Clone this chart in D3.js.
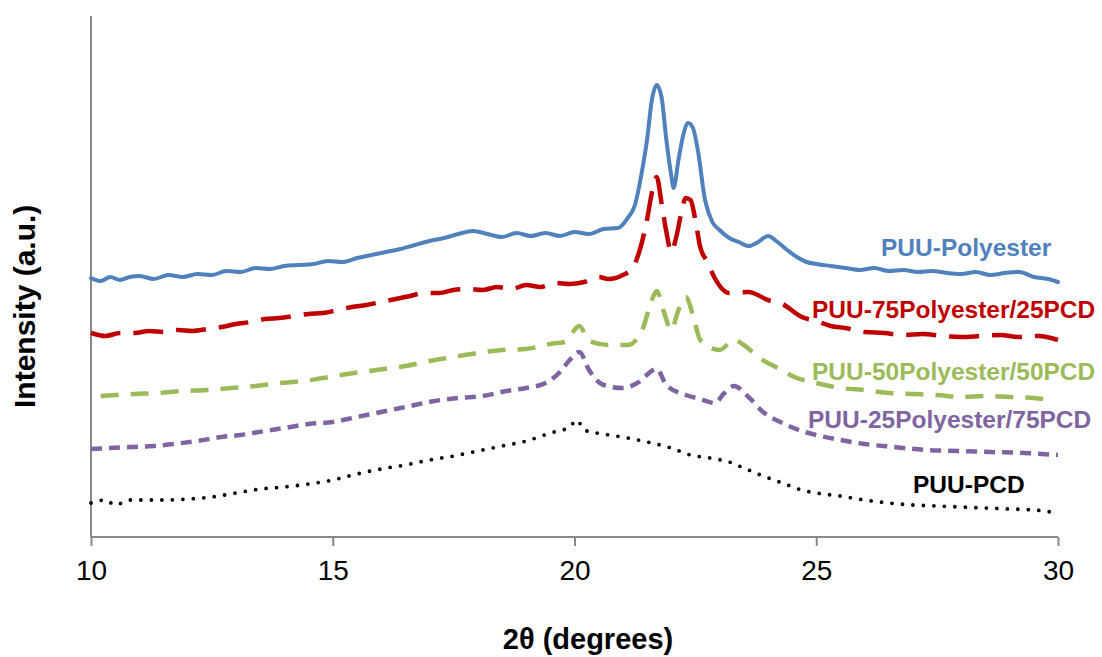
<!DOCTYPE html>
<html><head><meta charset="utf-8">
<script src="https://cdn.jsdelivr.net/npm/d3@7"></script>
<style>html,body{margin:0;padding:0;background:#fff;}svg{display:block;}</style>
</head><body>
<svg id="chart" width="1102" height="657"></svg>
<script>
// ---- data (intensity in arbitrary units) ----
const xTicks = [10, 15, 20, 25, 30];
const seriesNames = ["PUU-Polyester", "PUU-75Polyester/25PCD", "PUU-50Polyester/50PCD", "PUU-25Polyester/75PCD", "PUU-PCD"];

const xPolyester = [10.0,10.2,10.4,10.6,10.8,11.0,11.3,11.6,11.9,12.2,12.5,12.8,13.1,13.4,13.7,14.0,14.3,14.6,14.9,15.2,15.5,15.8,16.1,16.4,16.7,17.0,17.3,17.6,17.9,18.2,18.5,18.8,19.1,19.4,19.7,20.0,20.3,20.6,20.9,21.1,21.25,21.4,21.5,21.6,21.7,21.8,21.9,22.0,22.05,22.15,22.25,22.35,22.45,22.55,22.7,22.85,23.0,23.2,23.4,23.6,23.8,24.0,24.2,24.4,24.6,24.8,25.0,25.3,25.6,25.9,26.2,26.5,26.8,27.1,27.4,27.7,28.0,28.3,28.6,28.9,29.2,29.5,29.8,30.0];
const yPolyester = [259,256,260,257,260,261,258,262,260,263,262,266,265,269,268,271,272,273,276,275,279,282,285,288,292,296,299,303,306,303,300,304,301,304,301,305,303,308,309,319,332,367,397,437,452,440,397,362,349,377,402,414,409,387,337,315,307,299,295,291,295,301,295,287,280,275,273,271,269,267,269,266,267,265,266,264,263,265,262,264,265,260,258,255];

const x75 = [10.0,10.3,10.6,10.9,11.2,11.5,11.8,12.1,12.4,12.7,13.0,13.3,13.6,13.9,14.2,14.5,14.8,15.1,15.4,15.7,16.0,16.3,16.6,16.9,17.2,17.5,17.8,18.1,18.4,18.7,19.0,19.3,19.6,19.9,20.2,20.5,20.7,21.0,21.2,21.35,21.5,21.6,21.7,21.8,21.9,22.0,22.1,22.2,22.3,22.4,22.5,22.6,22.75,22.9,23.2,23.6,24.0,24.3,24.7,25.0,25.3,25.6,26.0,26.4,26.8,27.2,27.6,28.0,28.4,28.8,29.2,29.6,30.0];
const y75 = [204,201,204,204,206,205,207,206,208,210,213,215,218,219,221,223,224,227,230,232,235,238,241,244,244,247,248,247,250,248,252,250,254,253,255,260,258,262,269,287,317,344,360,334,305,285,299,322,339,337,317,290,275,259,244,245,237,233,220,216,211,209,205,204,202,203,201,200,201,202,200,201,197];

const x50 = [10.2,10.5,10.9,11.4,11.9,12.4,12.9,13.4,13.9,14.4,14.8,15.3,15.9,16.5,17.0,17.5,18.0,18.5,19.0,19.5,19.8,20.1,20.3,20.7,21.1,21.4,21.6,21.7,21.85,22.0,22.15,22.3,22.45,22.6,23.0,23.3,23.5,23.8,24.2,24.6,25.0,25.5,26.0,26.5,27.0,27.5,28.0,28.5,29.0,29.5,29.85];
const y50 = [141,142,143,144,146,147,149,151,154,156,159,163,167,171,176,180,184,187,188,193,195,211,196,192,192,207,237,246,225,207,227,240,222,197,187,197,192,180,169,159,154,149,147,144,143,142,140,141,140,139,137];

const x25 = [10.0,10.4,10.8,11.3,11.7,12.2,12.7,13.1,13.6,14.0,14.5,15.0,15.5,16.0,16.6,17.1,17.6,18.1,18.6,19.0,19.4,19.7,19.9,20.1,20.3,20.6,21.0,21.3,21.7,21.9,22.3,22.6,22.9,23.1,23.3,23.6,23.9,24.3,24.7,25.0,25.5,26.0,26.6,27.3,28.0,28.6,29.3,30.0];
const y25 = [88,89,90,91,93,96,100,102,106,109,113,115,120,125,131,136,139,141,146,149,154,165,177,185,167,152,149,154,168,152,142,138,134,144,151,140,125,114,106,102,97,93,90,87,86,85,84,82];

const xPCD = [10.0,10.3,10.5,10.8,11.5,12.0,12.5,13.0,13.5,14.0,14.5,15.0,15.5,16.0,16.5,17.0,17.5,18.0,18.5,19.0,19.5,19.9,20.05,20.2,20.6,21.1,21.6,22.0,22.4,22.8,23.2,23.5,23.9,24.3,24.7,25.0,25.5,26.0,26.5,27.0,27.5,28.0,28.5,29.0,29.5,30.0];
const yPCD = [34,37,32,37,37,38,40,44,48,50,53,57,63,68,72,77,81,86,91,96,104,110,117,107,103,99,94,89,82,79,75,69,61,54,47,44,41,37,34,32,31,30,29,28,27,24];

// ---- layout ----
const svg = d3.select("#chart");
const plotLeft = 91, plotRight = 1058, plotTop = 16, plotBottom = 537;
const x = d3.scaleLinear().domain([10, 30]).range([plotLeft, plotRight]);
const y = d3.scaleLinear().domain([0, 521]).range([plotBottom, plotTop]);
const FONT = "'Liberation Sans', Arial, Helvetica, sans-serif";
const axisColor = "#898989";

// axes
const xAxis = svg.append("g").attr("transform", `translate(0,${plotBottom})`)
  .call(d3.axisBottom(x).tickValues(xTicks).tickSize(9).tickPadding(14).tickFormat(d3.format("d")));
xAxis.select(".domain").attr("stroke", axisColor).attr("stroke-width", 2).attr("d", `M${plotLeft},0H${plotRight}`);
xAxis.selectAll(".tick line").attr("stroke", axisColor).attr("stroke-width", 2);
xAxis.selectAll(".tick text").attr("font-family", FONT).attr("font-size", 28).attr("fill", "#000");

svg.append("line").attr("x1", plotLeft).attr("x2", plotLeft).attr("y1", plotTop).attr("y2", plotBottom)
  .attr("stroke", axisColor).attr("stroke-width", 2);

// axis titles
svg.append("text").attr("x", 588).attr("y", 649).attr("text-anchor", "middle")
  .attr("font-family", FONT).attr("font-weight", "bold").attr("font-size", 29).text("2θ (degrees)");
svg.append("text").attr("transform", "translate(35,408) rotate(-90)").attr("text-anchor", "start")
  .attr("font-family", FONT).attr("font-weight", "bold").attr("font-size", 30).text("Intensity (a.u.)");

// series
const series = [
  {name: seriesNames[0], xs: xPolyester, ys: yPolyester, color: "#4F81BD", width: 4, dash: null, cap: "round", lx: 881, ly: 256},
  {name: seriesNames[1], xs: x75, ys: y75, color: "#C00000", width: 4.5, dash: "30,13", cap: "butt", lx: 812, ly: 318},
  {name: seriesNames[2], xs: x50, ys: y50, color: "#9BBB59", width: 4.5, dash: "18,12", cap: "butt", lx: 812, ly: 380},
  {name: seriesNames[3], xs: x25, ys: y25, color: "#8064A2", width: 4.5, dash: "11,7", cap: "butt", lx: 808, ly: 428},
  {name: seriesNames[4], xs: xPCD, ys: yPCD, color: "#000000", width: 3.8, dash: "0,10.5", cap: "round", lx: 913, ly: 493}
];
const line = d3.line().x(d => x(d[0])).y(d => y(d[1])).curve(d3.curveMonotoneX);
series.slice().reverse().forEach(s => {
  const pts = s.xs.map((v, i) => [v, s.ys[i]]);
  svg.append("path").datum(pts).attr("d", line).attr("fill", "none")
    .attr("stroke", s.color).attr("stroke-width", s.width)
    .attr("stroke-linecap", s.cap).attr("stroke-linejoin", "round")
    .attr("stroke-dasharray", s.dash);
});
series.forEach(s => {
  svg.append("text").attr("x", s.lx).attr("y", s.ly).attr("font-family", FONT)
    .attr("font-weight", "bold").attr("font-size", 24.5).attr("fill", s.color).text(s.name);
});
</script>
</body></html>
